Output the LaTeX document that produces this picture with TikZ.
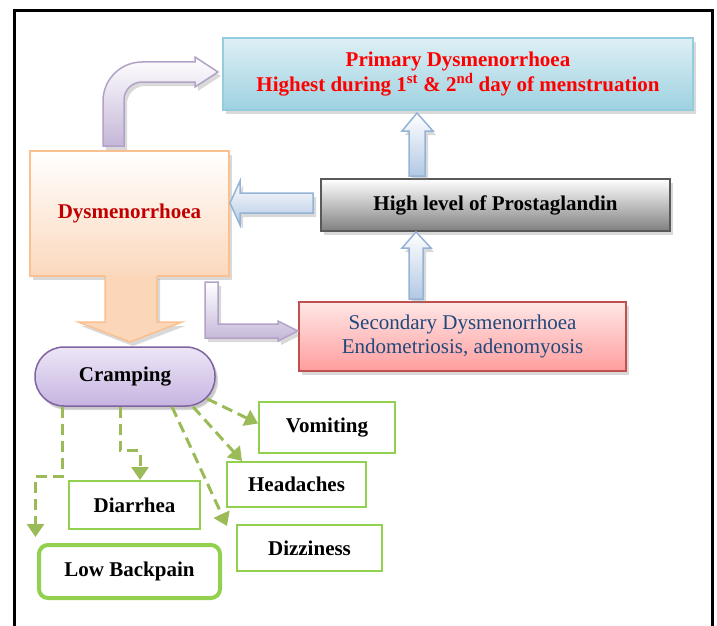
\documentclass[tikz,border=0pt]{standalone}
\usepackage{fontspec}
\setmainfont{Liberation Serif}
\usepackage{tikz}
\usetikzlibrary{shapes,arrows.meta,positioning,shadows}
\definecolor{primtop}{RGB}{222,239,245}
\definecolor{primbot}{RGB}{157,210,224}
\definecolor{primline}{RGB}{147,205,221}
\definecolor{peach}{RGB}{251,214,184}
\definecolor{peachline}{RGB}{250,192,143}
\definecolor{dysbot}{RGB}{251,216,188}
\definecolor{darkred}{RGB}{192,0,0}
\definecolor{greybot}{RGB}{128,128,128}
\definecolor{greyline}{RGB}{89,89,89}
\definecolor{pinktop}{RGB}{255,230,230}
\definecolor{pinkbot}{RGB}{255,158,158}
\definecolor{pinkline}{RGB}{192,80,77}
\definecolor{inkblue}{RGB}{31,73,125}
\definecolor{lilactop}{RGB}{237,230,246}
\definecolor{lilacbot}{RGB}{198,180,225}
\definecolor{lilacline}{RGB}{128,100,162}
\definecolor{mauve}{RGB}{196,182,216}
\definecolor{mauveline}{RGB}{179,162,199}
\definecolor{paleblue}{RGB}{178,200,228}
\definecolor{paleblueline}{RGB}{149,179,215}
\definecolor{leaf}{RGB}{146,208,80}
\definecolor{symline}{RGB}{155,187,89}

\begin{document}
\begin{tikzpicture}[x=1pt,y=-1pt,
  font=\fontsize{21}{25}\selectfont\bfseries,
  shadowed/.style={drop shadow={shadow xshift=3pt,shadow yshift=-4pt,opacity=0.3}},
  box/.style={draw, line width=1.5pt, align=center, inner sep=0pt, shadowed},
  symbox/.style={draw=leaf, line width=2pt, fill=white, inner sep=0pt},
  symarrow/.style={draw=symline, line width=3pt, dash pattern=on 11pt off 6pt,
    -{Triangle[length=13pt,width=17pt]}},
  fatarrow/.style={line width=1.5pt, shadowed}]
\useasboundingbox (0,0) rectangle (717,626);
\draw [line width=3pt] (14.5,626) -- (14.5,10.5) -- (712,10.5) -- (712,626);

% boxes
\node [box, draw=primline, top color=primtop, bottom color=primbot, text=red,
  minimum width=470pt, minimum height=72pt] (prim) at (458,74)
  {Primary Dysmenorrhoea\\Highest during 1\textsuperscript{st} \& 2\textsuperscript{nd} day of menstruation};
\node [box, draw=peachline, top color=white, bottom color=dysbot, text=darkred,
  minimum width=199pt, minimum height=125pt] (dys) at (129.5,213.5) {Dysmenorrhoea};
\node [box, draw=greyline, top color=white, bottom color=greybot,
  minimum width=349pt, minimum height=52pt] (prost) at (495.5,205) {High level of Prostaglandin};
\node [box, draw=pinkline, top color=pinktop, bottom color=pinkbot, text=inkblue,
  font=\fontsize{21}{24}\selectfont, minimum width=327pt, minimum height=69pt] (second) at (462.5,336.5)
  {Secondary Dysmenorrhoea\\Endometriosis, adenomyosis};

% block arrows
\draw [fatarrow, draw=mauveline, top color=white, bottom color=mauve] (103,146) -- (103,101)
  .. controls (103,79.5) and (120.5,62) .. (142,62) -- (195,62) -- (195,57) -- (218,72)
  -- (195,87) -- (195,82) -- (142,82) .. controls (132,82) and (124,90) .. (124,100)
  -- (124,146) -- cycle; % to primary
\draw [fatarrow, draw=mauveline, top color=white, bottom color=mauve] (205,282) -- (205,338)
  -- (278,338) -- (278,341) -- (298,331) -- (278,321) -- (278,324) -- (218,324) -- (218,282) -- cycle;
\draw [fatarrow, draw=paleblueline, top color=white, bottom color=paleblue] (313,193) -- (240,193)
  -- (240,181) -- (230,203) -- (240,225) -- (240,213) -- (313,213) -- cycle;
\draw [fatarrow, draw=paleblueline, top color=white, bottom color=paleblue] (409,176) -- (409,131)
  -- (402,131) -- (417,113) -- (433,131) -- (425,131) -- (425,176) -- cycle;
\draw [fatarrow, draw=paleblueline, top color=white, bottom color=paleblue] (409,299) -- (409,248)
  -- (402,248) -- (416,232) -- (431,248) -- (423,248) -- (423,299) -- cycle;
\fill [peach, shadowed] (105,275) -- (105,322) -- (78,322) -- (130,342) -- (182,322)
  -- (157,322) -- (157,275) -- cycle;
\draw [peachline, line width=1.5pt] (105,276) -- (105,322) -- (78,322) -- (130,342) -- (182,322)
  -- (157,322) -- (157,276);

% symptoms
\node [box, draw=lilacline, top color=lilactop, bottom color=lilacbot, rounded corners=29pt,
  drop shadow={shadow xshift=2pt,shadow yshift=-3pt,opacity=0.2},
  minimum width=180pt, minimum height=59pt] (cramp) at (125,376.5) {\raisebox{-4pt}{Cramping}};
\node [symbox, minimum width=136pt, minimum height=51pt] (vomit) at (327,427.5) {Vomiting};
\node [symbox, minimum width=139pt, minimum height=45pt] (head) at (296.5,484.5) {Headaches};
\node [symbox, minimum width=145pt, minimum height=46pt] (dizzy) at (309.5,548) {Dizziness};
\node [symbox, minimum width=131pt, minimum height=48pt] (diarr) at (134.5,505) {Diarrhea};
\node [symbox, line width=4pt, rounded corners=9pt, minimum width=181pt, minimum height=53pt]
  (back) at (129.5,571.5) {Low Backpain};

\draw [symarrow] ([xshift=-63pt]cramp.south) -- ++(0,70) -| ([shift={(-1.5,-6)}]back.north west);
\draw [symarrow] ([xshift=-5pt]cramp.south) -- ++(0,44) -| ([xshift=5.5pt]diarr.north);
\draw [symarrow] ([xshift=47pt]cramp.south) -- ([shift={(-9,2)}]dizzy.north west);
\draw [symarrow] ([xshift=68pt]cramp.south) -- ([xshift=16pt]head.north west);
\draw [symarrow] ([shift={(82,-8)}]cramp.south) -- ([yshift=4pt]vomit.west);
\end{tikzpicture}
\end{document}
